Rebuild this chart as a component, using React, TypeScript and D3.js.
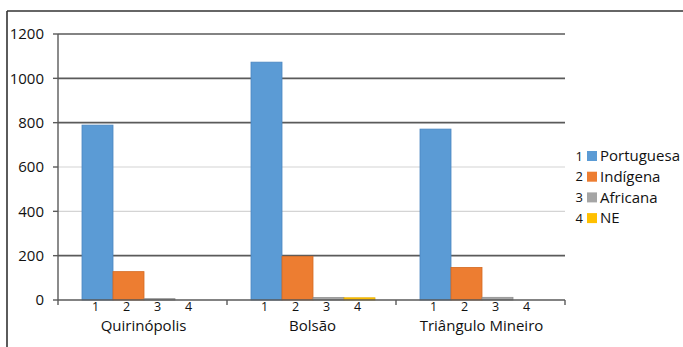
import React from "react";
import * as d3 from "d3";

const categories = ["Quirinópolis", "Bolsão", "Triângulo Mineiro"];
const seriesNames = ["Portuguesa", "Indígena", "Africana", "NE"];
const seriesNumbers = ["1", "2", "3", "4"];
const portuguesa = [789, 1073, 771];
const indigena = [128, 197, 147];
const africana = [6, 11, 12];
const ne = [0, 10, 0];
const yTicks = [0, 200, 400, 600, 800, 1000, 1200];
const darkGrid = [200, 800, 1000, 1200];

const colors = ["#5b9bd5", "#ed7d31", "#a5a5a5", "#ffc000"];
const strokes = ["#4a86c0", "#d46a22", "#8f8f8f", "#e6ad00"];

const W = 683;
const H = 347;
const FONT = "'Open Sans', sans-serif";

export default function App() {
  const seriesValues = [portuguesa, indigena, africana, ne];
  const x0 = d3.scaleBand<string>().domain(categories).range([58, 565]).padding(0);
  const x1 = d3
    .scaleBand<string>()
    .domain(seriesNumbers)
    .range([1.5, x0.bandwidth() + 1.5])
    .paddingInner(0)
    .paddingOuter(0.726);
  const y = d3.scaleLinear().domain([0, 1200]).range([300, 34]);
  const xLeft = 58;
  const xRight = 565;

  return (
    <svg
      width={W}
      height={H}
      style={{ position: "absolute", left: 0, top: 0, background: "#fff" }}
      fontFamily={FONT}
    >
      <rect x={0} y={0} width={W} height={H} fill="#fff" />
      {/* frame */}
      <line x1={7} y1={11} x2={W} y2={11} stroke="#333" strokeWidth={1.6} />
      <line x1={7} y1={11} x2={7} y2={H} stroke="#333" strokeWidth={1.6} />

      {/* gridlines */}
      {yTicks.map((t) =>
        t === 0 ? null : (
          <line
            key={"g" + t}
            x1={xLeft}
            x2={xRight}
            y1={y(t)}
            y2={y(t)}
            stroke={darkGrid.includes(t) ? "#5a5a5a" : "#d4d4d4"}
            strokeWidth={darkGrid.includes(t) ? 1.6 : 1.2}
          />
        )
      )}

      {/* y ticks & labels */}
      {yTicks.map((t) => (
        <g key={"yt" + t}>
          <line x1={53} x2={xLeft} y1={y(t)} y2={y(t)} stroke="#5a5a5a" strokeWidth={1.4} />
          <text
            x={44}
            y={y(t)}
            dy="0.35em"
            textAnchor="end"
            fontSize={15}
            fill="#111"
          >
            {t}
          </text>
        </g>
      ))}

      {/* bars */}
      {categories.map((c, ci) =>
        seriesValues.map((vals, si) => {
          const v = vals[ci];
          if (v <= 0) return null;
          const bx = (x0(c) as number) + (x1(seriesNumbers[si]) as number);
          const by = y(v);
          return (
            <rect
              key={c + si}
              x={bx}
              y={by}
              width={x1.bandwidth()}
              height={y(0) - by}
              fill={colors[si]}
              stroke={strokes[si]}
              strokeWidth={0.8}
            />
          );
        })
      )}

      {/* axes */}
      <line x1={xLeft} x2={xLeft} y1={y(1200)} y2={y(0)} stroke="#5a5a5a" strokeWidth={1.4} />
      <line x1={xLeft} x2={xRight} y1={y(0)} y2={y(0)} stroke="#5a5a5a" strokeWidth={1.6} />
      {[...categories.map((c) => x0(c) as number), xRight].map((xv, i) => (
        <line key={"xt" + i} x1={xv} x2={xv} y1={y(0)} y2={y(0) + 5} stroke="#5a5a5a" strokeWidth={1.4} />
      ))}

      {/* x labels */}
      {categories.map((c) => (
        <g key={"xl" + c}>
          {seriesNumbers.map((n) => (
            <text
              key={c + n}
              x={(x0(c) as number) + (x1(n) as number) + x1.bandwidth() / 2 - 2}
              y={311}
              textAnchor="middle"
              fontSize={12.5}
              fill="#111"
            >
              {n}
            </text>
          ))}
          <text
            x={(x0(c) as number) + x0.bandwidth() / 2 + 1}
            y={331}
            textAnchor="middle"
            fontSize={15}
            fill="#111"
          >
            {c}
          </text>
        </g>
      ))}

      {/* legend */}
      {seriesNames.map((s, i) => {
        const cy = 156 + i * 20.7;
        return (
          <g key={"lg" + s}>
            <text x={583} y={cy} dy="0.35em" textAnchor="end" fontSize={13} fill="#111">
              {seriesNumbers[i]}
            </text>
            <rect x={587} y={cy - 5} width={10} height={10} fill={colors[i]} />
            <text x={600} y={cy} dy="0.35em" fontSize={15} fill="#111">
              {s}
            </text>
          </g>
        );
      })}
    </svg>
  );
}
